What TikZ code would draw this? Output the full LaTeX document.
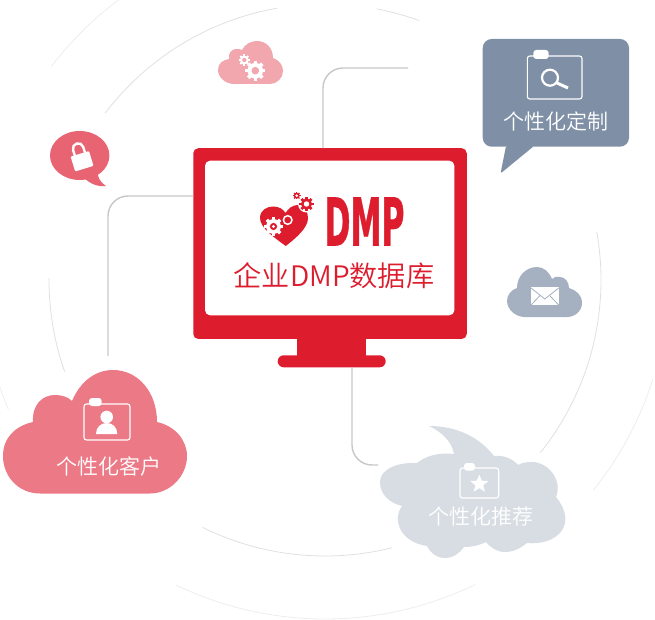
\documentclass[tikz,border=0pt]{standalone}
\usepackage{fontspec}
\usetikzlibrary{shapes.geometric,calc}
\newfontfamily\cjk{Noto Sans CJK SC DemiLight}
\newfontfamily\dmpfont[FakeBold=1.2]{DejaVu Sans Bold}
\definecolor{dmpred}{HTML}{DD1C2E}
\definecolor{slatecol}{HTML}{7F8FA6}
\definecolor{rosecol}{HTML}{EC7986}
\definecolor{palecol}{HTML}{D8DDE4}
\definecolor{pinkcol}{HTML}{F2A6AE}
\definecolor{mailcol}{HTML}{A5B1C0}
\definecolor{lockcol}{HTML}{E86473}
\tikzset{
  conn/.style={draw=black!22,line width=1.4pt,rounded corners=20pt},
  ringin/.style={draw=black!12,line width=0.8pt},
  ringout/.style={draw=black!7,line width=0.8pt},
  label/.style={text=white,font=\cjk\fontsize{21}{21}\selectfont,inner sep=0pt},
  cardframe/.style={draw=white,line width=1.1pt,rounded corners=2.5pt},
  cardtab/.style={fill=white,rounded corners=3pt},
}
\newcommand{\gearmark}[5]{%
  \foreach \a in {0,45,...,315}{\draw[line width=#3*0.36pt,color=#4] (#1,#2) -- ++(\a:#3);}
  \fill[#4] (#1,#2) circle[radius=#3*0.78];
  \fill[#5] (#1,#2) circle[radius=#3*0.38];
}
\begin{document}
\begin{tikzpicture}[x=1pt,y=-1pt]
\useasboundingbox (0,0) rectangle (655,620);
\clip (0,0) rectangle (655,620);
% rings
\draw[ringin,domain=217.2:260,samples=70,smooth,variable=\t] plot ({325+276*cos(\t)},{280+276*sin(\t)});
\draw[ringin,domain=280.8:290,samples=30,smooth,variable=\t] plot ({325+276*cos(\t)},{280+276*sin(\t)});
\draw[ringin,domain=-10:38.7,samples=70,smooth,variable=\t] plot ({325+276*cos(\t)},{280+276*sin(\t)});
\draw[ringin,domain=76:116.3,samples=50,smooth,variable=\t] plot ({325+276*cos(\t)},{280+276*sin(\t)});
\draw[ringin,domain=160.6:180.4,samples=30,smooth,variable=\t] plot ({325+276*cos(\t)},{280+276*sin(\t)});
\draw[ringout,domain=217.3:233.3,samples=40,smooth,variable=\t] plot ({325+344*cos(\t)},{275+344*sin(\t)});
\draw[ringout,domain=64.1:115.7,samples=60,smooth,variable=\t] plot ({325+344*cos(\t)},{275+344*sin(\t)});
\draw[ringout,domain=17.7:38.7,samples=40,smooth,variable=\t] plot ({325+344*cos(\t)},{275+344*sin(\t)});
\draw[ringout,domain=157:162,samples=20,smooth,variable=\t] plot ({325+344*cos(\t)},{275+344*sin(\t)});
% monitor
\node (monitor) [fill=dmpred,rounded corners=5pt,minimum width=273.5pt,minimum height=190.7pt,inner sep=0pt] at (330,243.6) {};
\node (screen) [fill=white,rounded corners=5pt,minimum width=249.3pt,minimum height=154.6pt,inner sep=0pt] at (329.7,238) {};
\node (neck) [fill=dmpred,minimum width=68.4pt,minimum height=18pt,inner sep=0pt] at (331.5,347.5) {};
\node (base) [fill=dmpred,rounded corners=6pt,minimum width=108pt,minimum height=12pt,inner sep=0pt] at (331.7,361.3) {};
% connectors
\coordinate (c1) at (323,68);
\coordinate (e1) at (408,68);
\coordinate (c2) at (108,196);
\coordinate (e2) at (108,356);
\coordinate (c3) at (352,465);
\coordinate (e3) at (378,465);
\draw[conn] (monitor.north -| c1) -- (c1) -- (e1);
\draw[conn] (monitor.west |- c2) -- (c2) -- (e2);
\draw[conn] (base.south -| c3) -- (c3) -- (e3);
% DMP logo
\fill[dmpred] (285.7,246) .. controls (275,238) and (260,228) .. (260,218) .. controls (260,210) and (267,206.5) .. (273,206.5) .. controls (279,206.5) and (283,209) .. (285.5,213) .. controls (288,209) and (292,205) .. (298,205) .. controls (304,205) and (308,211) .. (308,218) .. controls (308,228) and (296,238) .. (285.7,246) -- cycle;
\gearmark{273.5}{226.5}{9.5}{white}{dmpred}
\fill[white] (273.5,226.5) circle[radius=1.6];
\draw[white,line width=1.5pt] (287.7,220) circle[radius=4.3];
\fill[white] (306.5,204) circle[radius=8.5];
\gearmark{306.5}{204}{7.2}{dmpred}{white}
\fill[white] (296.7,195.7) circle[radius=4.6];
\gearmark{296.7}{195.7}{3.8}{dmpred}{white}
\node (dmp) [text=dmpred,inner sep=0pt,xscale=0.473] at (364.5,221.5) {\dmpfont\fontsize{66}{66}\selectfont DMP};
\node (dbl) [text=dmpred,inner sep=0pt,font=\cjk\fontsize{28.2}{28}\selectfont] at (334,276) {企业DMP数据库};
% blue speech bubble
\fill[slatecol,rounded corners=9pt] (482.7,39) rectangle (629,146.7);
\fill[slatecol,rounded corners=1.5pt] (506,146) -- (500.5,173.5) -- (534,146) -- cycle;
\draw[cardframe] (527.3,56) rectangle (582,99);
\fill[cardtab] (533.3,50) rectangle (548.7,59);
\draw[white,line width=2.2pt] (550,77.7) circle[radius=8];
\draw[white,line width=3pt] (557,83) -- (568,88);
\node (lblb) [label] at (556,121) {个性化定制};
% red cloud
\fill[rosecol] (40,493.5) .. controls (18,493.5) and (3,476) .. (3,456) .. controls (3,438) and (15,426) .. (33,422) .. controls (32,405) and (42,395) .. (55,395) .. controls (62,395) and (68,397) .. (72,401) .. controls (80,382) and (95,370) .. (113,370) .. controls (138,370) and (157,392) .. (157,422) .. controls (175,426) and (187,440) .. (187,456) .. controls (187,476) and (170,493.5) .. (150,493.5) -- cycle;
\draw[cardframe] (84,404) rectangle (130,440);
\fill[cardtab] (89,398) rectangle (101.7,406);
\fill[white] (106.7,417) circle[radius=6.3];
\fill[white] (96,434) .. controls (96,427) and (101,423) .. (106.7,423) .. controls (112.4,423) and (117.3,427) .. (117.3,434) -- cycle;
\node (lblr) [label] at (108.5,466) {个性化客户};
% grey cloud
\fill[palecol] (417,463) .. controls (400,462) and (380,468) .. (380,482) .. controls (380,495) and (390,503) .. (402,506) .. controls (392,520) and (400,542) .. (427,546) .. controls (430,553) and (437,558) .. (445,558) .. controls (453,558) and (460,553) .. (464,547) .. controls (470,547) and (478,546) .. (486,542) .. controls (491,548) and (497,552) .. (505,552) .. controls (515,552) and (522,547) .. (527,543) .. controls (556,546) and (579,525) .. (556,497) .. controls (563,480) and (548,462) .. (532,462) .. controls (526,462) and (521,463) .. (518,465) .. controls (512,458) and (503,455) .. (494,456) .. controls (480,438) and (458,426) .. (429,426) .. controls (442,432) and (452,442) .. (454,454) .. controls (440,452) and (425,456) .. (417,463) -- cycle;
\draw[cardframe] (460,468) rectangle (498.7,498);
\fill[cardtab] (464,463) rectangle (475,470.7);
\node (starmark) [star,star points=5,star point ratio=2.3,fill=white,minimum size=19pt,inner sep=0pt] at (479.3,484) {};
\node (lblg) [label] at (481,516.7) {个性化推荐};
% pink gear cloud
\fill[pinkcol] (234,84) .. controls (225,84) and (218,77) .. (218,70) .. controls (218,63) and (223,60) .. (229,59) .. controls (228,53) and (232,49) .. (236,49) .. controls (238,49) and (241,49) .. (242,50) .. controls (245,44) and (251,41) .. (257,41) .. controls (266,41) and (273,48) .. (273,58) .. controls (279,60) and (283,65) .. (283,71) .. controls (283,78) and (277,84) .. (270,84) -- cycle;
\gearmark{255.3}{70.7}{10}{white}{pinkcol}
\gearmark{244.3}{60}{5.6}{white}{pinkcol}
% mail cloud
\fill[mailcol] (525,317) .. controls (515,317) and (507,309) .. (507,301) .. controls (507,295) and (511,290) .. (517,288) .. controls (517,276) and (526,267) .. (537,267) .. controls (544,267) and (549,272) .. (552,279) .. controls (554,277) and (557,276) .. (560,277) .. controls (565,277) and (569,282) .. (569,288) .. controls (576,290) and (582,295) .. (582,303) .. controls (582,311) and (575,317) .. (567,317) -- cycle;
\fill[white] (531,287.3) rectangle (558.7,305);
\draw[mailcol,line width=0.8pt] (531,288) -- (544.8,299) -- (558.7,288);
\draw[mailcol,line width=0.8pt] (531,305) -- (540,295.5) (558.7,305) -- (549.6,295.5);
% lock bubble
\fill[lockcol] (79.7,155.5) ellipse[x radius=29.7,y radius=24.5];
\fill[lockcol] (83,177) .. controls (90,184) and (98,187) .. (106,186) .. controls (100,182) and (97,177) .. (98,171) -- cycle;
\begin{scope}[shift={(82,161)},rotate=17]
  \fill[white,rounded corners=1pt] (-9.6,-7.5) rectangle (9.6,8);
  \draw[white,line width=2.4pt] (-5.3,-6) -- (-5.3,-13) arc[start angle=180,end angle=360,radius=5.3] -- (5.3,-6);
\end{scope}
\end{tikzpicture}
\end{document}
